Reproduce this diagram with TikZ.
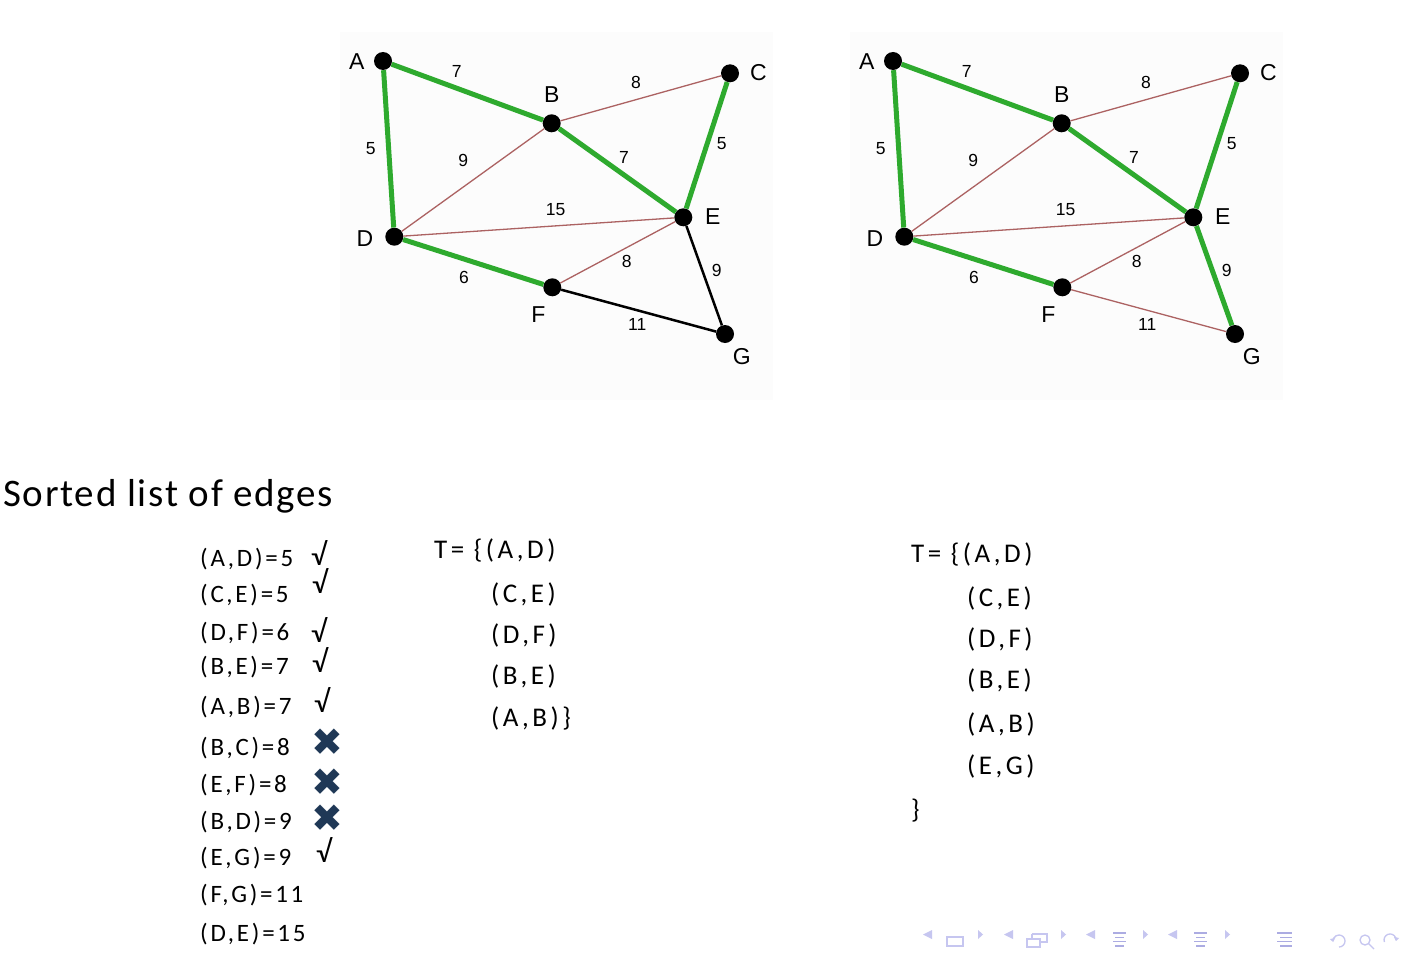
\documentclass[tikz,border=0pt]{standalone}
\usepackage{fontspec}
\setmainfont{Carlito}
\newfontfamily\listfam[LetterSpace=11]{Carlito}
\newfontfamily\setfam[LetterSpace=13]{Carlito}
\newfontfamily\headfam[LetterSpace=4.5]{Carlito}
\newfontfamily\graphfont{Liberation Sans}
\newfontfamily\symfont{DejaVu Sans}
\usetikzlibrary{arrows.meta}
\definecolor{edgegreen}{RGB}{46,170,46}
\definecolor{edgered}{RGB}{172,98,98}
\definecolor{xnavy}{RGB}{31,56,86}
\definecolor{navcol}{RGB}{198,198,240}
\definecolor{navdark}{RGB}{172,172,226}
\definecolor{imgbg}{RGB}{252,252,252}
\newcommand\kgraph[4]{%
  \begin{scope}[shift={(#2,0)}]
  \fill[imgbg] (340,32) rectangle (773,400);
  \node[dot] (#1A) at (383,61) {};
  \node[dot] (#1B) at (551.7,123.3) {};
  \node[dot] (#1C) at (730,73.3) {};
  \node[dot] (#1D) at (394.3,236.7) {};
  \node[dot] (#1E) at (683.3,217.3) {};
  \node[dot] (#1F) at (552.3,287.3) {};
  \node[dot] (#1G) at (725,334) {};
  \node[vlabel] (#1lA) at (356.7,61.7) {A};
  \node[vlabel] (#1lB) at (551.7,95) {B};
  \node[vlabel] (#1lC) at (758.3,72.3) {C};
  \node[vlabel] (#1lD) at (365,238.3) {D};
  \node[vlabel] (#1lE) at (712.7,217) {E};
  \node[vlabel] (#1lF) at (538.3,315) {F};
  \node[vlabel] (#1lG) at (741.7,357) {G};
  \draw[tree] (#1A) -- (#1B);
  \draw[tree] (#1A) -- (#1D);
  \draw[tree] (#1B) -- (#1E);
  \draw[tree] (#1C) -- (#1E);
  \draw[tree] (#1D) -- (#1F);
  \draw[thin] (#1B) -- (#1C);
  \draw[thin] (#1B) -- (#1D);
  \draw[thin] (#1D) -- (#1E);
  \draw[thin] (#1E) -- (#1F);
  \draw[#3] (#1E) -- (#1G);
  \draw[#4] (#1F) -- (#1G);
  \node[wlabel] (#1wAB) at (456.7,71.7) {7};
  \node[wlabel] (#1wBC) at (636,82.3) {8};
  \node[wlabel] (#1wAD) at (370.7,148.3) {5};
  \node[wlabel] (#1wCE) at (721.7,143.3) {5};
  \node[wlabel] (#1wBD) at (463.3,160.7) {9};
  \node[wlabel] (#1wBE) at (624,157.3) {7};
  \node[wlabel] (#1wDE) at (555.7,210) {15};
  \node[wlabel] (#1wDF) at (464,277.3) {6};
  \node[wlabel] (#1wEF) at (626.7,261.7) {8};
  \node[wlabel] (#1wEG) at (716.7,270) {9};
  \node[wlabel] (#1wFG) at (637.3,324) {11};
  \end{scope}}
\begin{document}
\begin{tikzpicture}[x=1pt,y=-1pt,
  dot/.style={circle,fill=black,inner sep=0pt,minimum size=18pt},
  vlabel/.style={font=\graphfont\fontsize{23}{26}\selectfont,inner sep=0pt},
  wlabel/.style={font=\graphfont\fontsize{17.5}{20}\selectfont,inner sep=0pt},
  tree/.style={draw=edgegreen,line width=5pt},
  thin/.style={draw=edgered,line width=1.3pt},
  blk/.style={draw=black,line width=2.5pt},
  listtxt/.style={font=\listfam\fontsize{25}{29}\selectfont,inner sep=0pt,anchor=base west},
  settxt/.style={font=\setfam\fontsize{27}{31}\selectfont,inner sep=0pt,anchor=base west},
  headtxt/.style={font=\headfam\fontsize{39}{45}\selectfont,inner sep=0pt,anchor=base west},
  ck/.style={font=\fontsize{31}{35}\selectfont,inner sep=0pt,anchor=base west},
  xm/.style={font=\symfont\fontsize{38}{42}\selectfont,text=xnavy,inner sep=0pt,
    text height=27pt,text depth=0pt},
  nav/.style={fill=navcol,draw=none},
  navl/.style={draw=navcol,line width=1.3pt},
  navd/.style={draw=navdark,line width=1.6pt}
]
\useasboundingbox (0,0) rectangle (1404,958);
\fill[white] (0,0) rectangle (1404,958);
\kgraph{l}{0}{blk}{blk}
\kgraph{r}{510}{tree}{thin}
% heading
\node[headtxt] (head) at (3,506) {Sorted list of edges};
% sorted list
\node[listtxt] (e1) at (200,566) {(A,D)=5};
\node[listtxt] (e2) at (200,602) {(C,E)=5};
\node[listtxt] (e3) at (200,640) {(D,F)=6};
\node[listtxt] (e4) at (200,674) {(B,E)=7};
\node[listtxt] (e5) at (200,714) {(A,B)=7};
\node[listtxt] (e6) at (200,755) {(B,C)=8};
\node[listtxt] (e7) at (200,792) {(E,F)=8};
\node[listtxt] (e8) at (200,829) {(B,D)=9};
\node[listtxt] (e9) at (200,865) {(E,G)=9};
\node[listtxt] (e10) at (200,902) {(F,G)=11};
\node[listtxt] (e11) at (200,941) {(D,E)=15};
% marks
\node[ck] (c1) at (311,565) {√};
\node[ck] (c2) at (312,593) {√};
\node[ck] (c3) at (311,642) {√};
\node[ck] (c4) at (312,672) {√};
\node[ck] (c5) at (314,712) {√};
\node[ck] (c9) at (316,862) {√};
\node[xm] (x6) at (327,742) {✖};
\node[xm] (x7) at (327,782) {✖};
\node[xm] (x8) at (327,818) {✖};
% T after five edges
\node[settxt] (t1) at (434,558) {T= \{(A,D)};
\node[settxt] (t2) at (491,602) {(C,E)};
\node[settxt] (t3) at (491,643) {(D,F)};
\node[settxt] (t4) at (491,684) {(B,E)};
\node[settxt] (t5) at (491,726) {(A,B)\}};
% final T
\node[settxt] (u1) at (911,562) {T= \{(A,D)};
\node[settxt] (u2) at (967,606) {(C,E)};
\node[settxt] (u3) at (967,647) {(D,F)};
\node[settxt] (u4) at (967,688) {(B,E)};
\node[settxt] (u5) at (967,732) {(A,B)};
\node[settxt] (u6) at (967,774) {(E,G)};
\node[settxt] (u7) at (911,818) {\}};
% navigation symbols
\fill[nav] (932,930) -- (923,934.5) -- (932,939) -- cycle;
\draw[navl] (947,937) rectangle (963,946);
\fill[nav] (978,930) -- (983,934.5) -- (978,939) -- cycle;
\fill[nav] (1013,930) -- (1004,934.5) -- (1013,939) -- cycle;
\draw[navl] (1027,939) rectangle (1040,947);
\draw[navl] (1032,934) -- (1047,934) -- (1047,942) -- (1040,942);
\draw[navl] (1032,939) -- (1032,934);
\fill[nav] (1061,930) -- (1066,934.5) -- (1061,939) -- cycle;
\fill[nav] (1095,930) -- (1086,934.5) -- (1095,939) -- cycle;
\draw[navd] (1113,933) -- (1126,933);
\draw[navd] (1115,937.5) -- (1124,937.5);
\draw[navd] (1113,941.5) -- (1126,941.5);
\draw[navd] (1115,946) -- (1124,946);
\fill[nav] (1143,930) -- (1148,934.5) -- (1143,939) -- cycle;
\fill[nav] (1177,930) -- (1168,934.5) -- (1177,939) -- cycle;
\draw[navd] (1194,933) -- (1207,933);
\draw[navd] (1196,937.5) -- (1205,937.5);
\draw[navd] (1194,941.5) -- (1207,941.5);
\draw[navd] (1196,946) -- (1205,946);
\fill[nav] (1225,930) -- (1230,934.5) -- (1225,939) -- cycle;
\draw[navd] (1277,933) -- (1292,933);
\draw[navd] (1280,937.5) -- (1292,937.5);
\draw[navd] (1277,941.5) -- (1292,941.5);
\draw[navd] (1280,946) -- (1292,946);
\draw[navl,-{Triangle[length=3.5pt,width=5pt]}] (1339,947) arc[start angle=90,end angle=-190,radius=6];
\draw[navl] (1365,940) circle[radius=5];
\draw[navl] (1368.5,943.5) -- (1374,949);
\draw[navl,-{Triangle[length=3.5pt,width=5pt]}] (1384.4,942) arc[start angle=160,end angle=370,radius=6];
\end{tikzpicture}
\end{document}
